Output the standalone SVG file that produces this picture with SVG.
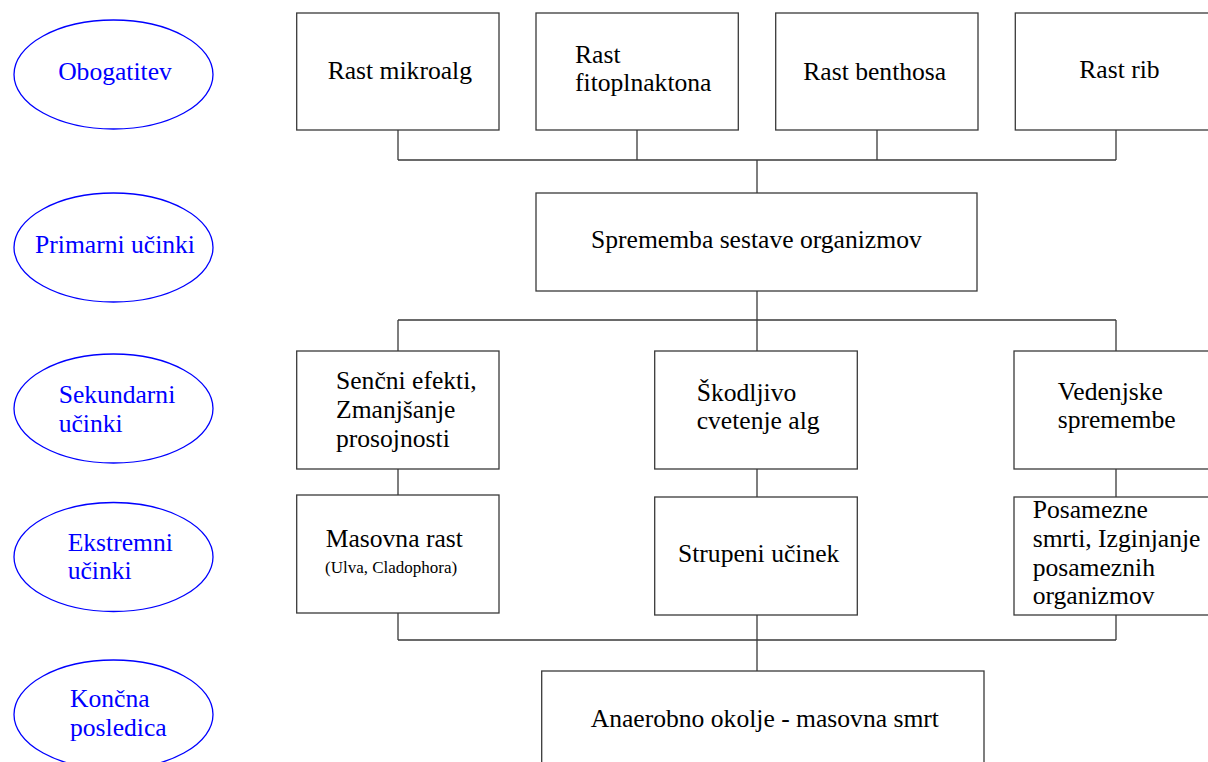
<svg xmlns="http://www.w3.org/2000/svg" width="1208" height="762" viewBox="0 0 1208 762">
<style>
.bx{fill:#fff;stroke:#3a3a3a;stroke-width:1.3}
.el{fill:#fff;stroke:#0000ff;stroke-width:1.3}
.t{font-family:"Liberation Serif","Times New Roman",serif;font-size:25.6px;fill:#000}
.b{font-family:"Liberation Serif","Times New Roman",serif;font-size:25.6px;fill:#0000ff}
.s{font-family:"Liberation Serif","Times New Roman",serif;font-size:17px;fill:#000}
.ln{fill:none;stroke:#3a3a3a;stroke-width:1.3}
</style>
<rect width="1208" height="762" fill="#fff"/>
<g id="connectors">
<path class="ln" d="M398,130V160M637,130V160M877,130V160M1116,130V160M398,160H1116M757,160V193"/>
<path class="ln" d="M757,291V320M398,320H1116M398,320V351M757,320V351M1116,320V351"/>
<path class="ln" d="M398,469V495M757,469V497M1116,469V497"/>
<path class="ln" d="M398,613V640M757,615V640M1116,615V640M398,640H1116M757,640V671"/>
</g>
<g id="lbl-obogatitev"><ellipse class="el" cx="113.5" cy="74.5" rx="99.5" ry="54.5"/><text class="b" x="115" y="80" text-anchor="middle">Obogatitev</text></g>
<g id="lbl-primarni"><ellipse class="el" cx="113.5" cy="247.5" rx="99.5" ry="54.5"/><text class="b" x="115" y="253" text-anchor="middle">Primarni učinki</text></g>
<g id="lbl-sekundarni"><ellipse class="el" cx="113.5" cy="408.5" rx="99.5" ry="54.5"/><text class="b" x="58.7" y="403.3">Sekundarni</text><text class="b" x="58.7" y="432.3">učinki</text></g>
<g id="lbl-ekstremni"><ellipse class="el" cx="113.5" cy="557" rx="99.5" ry="54.5"/><text class="b" x="67.7" y="551">Ekstremni</text><text class="b" x="67.7" y="579.3">učinki</text></g>
<g id="lbl-koncna"><ellipse class="el" cx="113.5" cy="714.5" rx="99.5" ry="54.5"/><text class="b" x="70" y="707.3">Končna</text><text class="b" x="70" y="736">posledica</text></g>
<g id="n-mikroalg"><rect class="bx" x="296.7" y="13" width="202.3" height="117"/><text class="t" x="327.7" y="79">Rast mikroalg</text></g>
<g id="n-fito"><rect class="bx" x="536" y="13" width="202.3" height="117"/><text class="t" x="575" y="62.5">Rast</text><text class="t" x="575" y="91">fitoplnaktona</text></g>
<g id="n-benthos"><rect class="bx" x="775.7" y="13" width="202.3" height="117"/><text class="t" x="803.3" y="80">Rast benthosa</text></g>
<g id="n-rib"><rect class="bx" x="1015.3" y="13" width="202.3" height="117"/><text class="t" x="1079.3" y="78">Rast rib</text></g>
<g id="n-sprememba"><rect class="bx" x="536" y="193" width="441" height="98"/><text class="t" x="591" y="248">Sprememba sestave organizmov</text></g>
<g id="n-sencni"><rect class="bx" x="296.7" y="351" width="202.3" height="118"/><text class="t" x="336" y="389.3">Senčni efekti,</text><text class="t" x="336" y="417.8">Zmanjšanje</text><text class="t" x="336" y="446.7">prosojnosti</text></g>
<g id="n-skodljivo"><rect class="bx" x="654.7" y="351" width="202.6" height="118"/><text class="t" x="696.7" y="400.7">Škodljivo</text><text class="t" x="696.7" y="429.3">cvetenje alg</text></g>
<g id="n-vedenjske"><rect class="bx" x="1014" y="351" width="202.3" height="118"/><text class="t" x="1057.7" y="400">Vedenjske</text><text class="t" x="1057.7" y="428.3">spremembe</text></g>
<g id="n-masovna"><rect class="bx" x="296.7" y="495" width="202.3" height="118"/><text class="t" x="325.7" y="546.7">Masovna rast</text><text class="s" x="325" y="572.7">(Ulva, Cladophora)</text></g>
<g id="n-strupeni"><rect class="bx" x="654.7" y="497" width="202.6" height="118"/><text class="t" x="678" y="561.7">Strupeni učinek</text></g>
<g id="n-posamezne"><rect class="bx" x="1014" y="497" width="202.3" height="118"/><text class="t" x="1032.7" y="518.3">Posamezne</text><text class="t" x="1032.7" y="546.7">smrti, Izginjanje</text><text class="t" x="1032.7" y="576">posameznih</text><text class="t" x="1032.7" y="604">organizmov</text></g>
<g id="n-anaerobno"><rect class="bx" x="541.7" y="671" width="442.3" height="110"/><text class="t" x="590.7" y="726.7">Anaerobno okolje - masovna smrt</text></g>
</svg>
